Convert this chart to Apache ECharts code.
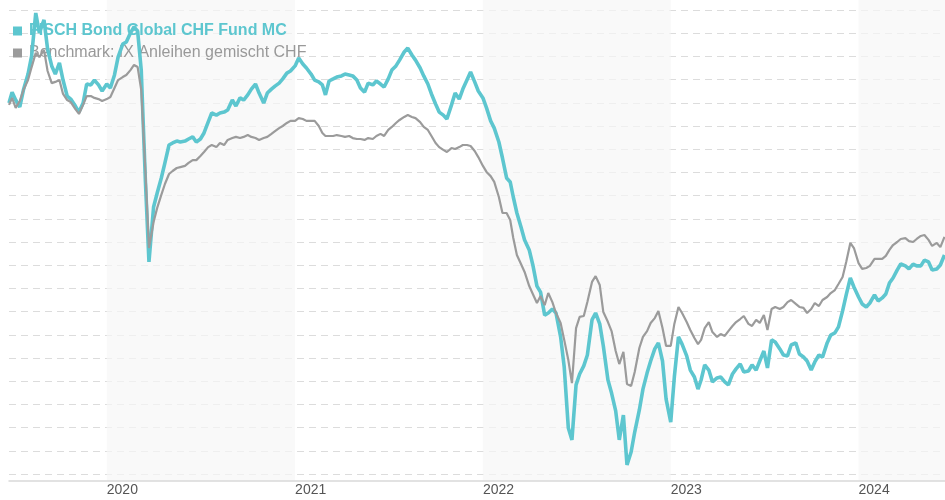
<!DOCTYPE html>
<html>
<head>
<meta charset="utf-8">
<script src="https://cdn.jsdelivr.net/npm/echarts@6/dist/echarts.min.js"></script>
<style>html,body{margin:0;padding:0;background:#fff}#c{width:945px;height:500px}</style>
</head>
<body>
<div id="c"></div>
<script>
const fundName = 'FISCH Bond Global CHF Fund MC';
const benchName = 'Benchmark: IX Anleihen gemischt CHF';
const yearTicks = ['2020', '2021', '2022', '2023', '2024'];
const shadedBands = [['2020-01-01', '2021-01-01'], ['2022-01-01', '2023-01-01'], ['2024-01-01', '2024-06-17']];

const dates = [
'2019-06-25',
'2019-07-01','2019-07-08','2019-07-16','2019-07-23',
'2019-08-01','2019-08-08','2019-08-16','2019-08-23',
'2019-09-01','2019-09-08','2019-09-16','2019-09-23',
'2019-10-01','2019-10-08','2019-10-16','2019-10-23',
'2019-11-01','2019-11-08','2019-11-16','2019-11-23',
'2019-12-01','2019-12-08','2019-12-16','2019-12-23',
'2020-01-01','2020-01-08','2020-01-16','2020-01-23',
'2020-02-01','2020-02-08','2020-02-16','2020-02-23',
'2020-03-01','2020-03-08','2020-03-16','2020-03-23',
'2020-04-01','2020-04-08','2020-04-16','2020-04-23',
'2020-05-01','2020-05-08','2020-05-16','2020-05-23',
'2020-06-01','2020-06-08','2020-06-16','2020-06-23',
'2020-07-01','2020-07-08','2020-07-16','2020-07-23',
'2020-08-01','2020-08-08','2020-08-16','2020-08-23',
'2020-09-01','2020-09-08','2020-09-16','2020-09-23',
'2020-10-01','2020-10-08','2020-10-16','2020-10-23',
'2020-11-01','2020-11-08','2020-11-16','2020-11-23',
'2020-12-01','2020-12-08','2020-12-16','2020-12-23',
'2021-01-01','2021-01-08','2021-01-16','2021-01-23',
'2021-02-01','2021-02-08','2021-02-16','2021-02-23',
'2021-03-01','2021-03-08','2021-03-16','2021-03-23',
'2021-04-01','2021-04-08','2021-04-16','2021-04-23',
'2021-05-01','2021-05-08','2021-05-16','2021-05-23',
'2021-06-01','2021-06-08','2021-06-16','2021-06-23',
'2021-07-01','2021-07-08','2021-07-16','2021-07-23',
'2021-08-01','2021-08-08','2021-08-16','2021-08-23',
'2021-09-01','2021-09-08','2021-09-16','2021-09-23',
'2021-10-01','2021-10-08','2021-10-16','2021-10-23',
'2021-11-01','2021-11-08','2021-11-16','2021-11-23',
'2021-12-01','2021-12-08','2021-12-16','2021-12-23',
'2022-01-01','2022-01-08','2022-01-16','2022-01-23',
'2022-02-01','2022-02-08','2022-02-16','2022-02-23',
'2022-03-01','2022-03-08','2022-03-16','2022-03-23',
'2022-04-01','2022-04-08','2022-04-16','2022-04-23',
'2022-05-01','2022-05-08','2022-05-16','2022-05-23',
'2022-06-01','2022-06-08','2022-06-16','2022-06-23',
'2022-07-01','2022-07-08','2022-07-16','2022-07-23',
'2022-08-01','2022-08-08','2022-08-16','2022-08-23',
'2022-09-01','2022-09-08','2022-09-16','2022-09-23',
'2022-10-01','2022-10-08','2022-10-16','2022-10-23',
'2022-11-01','2022-11-08','2022-11-16','2022-11-23',
'2022-12-01','2022-12-08','2022-12-16','2022-12-23',
'2023-01-01','2023-01-08','2023-01-16','2023-01-23',
'2023-02-01','2023-02-08','2023-02-16','2023-02-23',
'2023-03-01','2023-03-08','2023-03-16','2023-03-23',
'2023-04-01','2023-04-08','2023-04-16','2023-04-23',
'2023-05-01','2023-05-08','2023-05-16','2023-05-23',
'2023-06-01','2023-06-08','2023-06-16','2023-06-23',
'2023-07-01','2023-07-08','2023-07-16','2023-07-23',
'2023-08-01','2023-08-08','2023-08-16','2023-08-23',
'2023-09-01','2023-09-08','2023-09-16','2023-09-23',
'2023-10-01','2023-10-08','2023-10-16','2023-10-23',
'2023-11-01','2023-11-08','2023-11-16','2023-11-23',
'2023-12-01','2023-12-08','2023-12-16','2023-12-23',
'2024-01-01','2024-01-08','2024-01-16','2024-01-23',
'2024-02-01','2024-02-08','2024-02-16','2024-02-23',
'2024-03-01','2024-03-08','2024-03-16','2024-03-23',
'2024-04-01','2024-04-08','2024-04-16','2024-04-23',
'2024-05-01','2024-05-08','2024-05-16','2024-05-23',
'2024-06-01','2024-06-08','2024-06-16'
];

const fund = [
97.99,
98.46, 98.12, 97.82, 98.55,
99.24, 100.02, 101.87, 101.01,
101.57, 100.32, 99.59, 99.24,
99.72, 98.98, 98.29, 98.16,
97.86, 97.60, 97.99, 98.81,
98.77, 98.98, 98.77, 98.51,
98.81, 98.64, 99.20, 99.97,
100.53, 100.62, 101.01, 101.27,
101.09, 99.41, 94.67, 91.14,
93.51, 94.11, 94.76, 95.41,
96.18, 96.27, 96.35, 96.31,
96.35, 96.44, 96.53, 96.31,
96.44, 96.70, 97.17, 97.56,
97.47, 97.56, 97.60, 97.69,
98.12, 97.86, 98.21, 98.12,
98.34, 98.59, 98.81, 98.42,
97.99, 98.42, 98.59, 98.72,
98.85, 99.03, 99.28, 99.37,
99.59, 99.93, 99.67, 99.50,
99.24, 98.98, 98.90, 98.77,
98.34, 98.94, 99.03, 99.11,
99.16, 99.24, 99.20, 99.16,
98.98, 98.64, 98.46, 98.85,
98.77, 98.94, 98.81, 98.68,
99.03, 99.41, 99.59, 99.84,
100.19, 100.36, 100.06, 99.84,
99.50, 99.16, 98.81, 98.38,
97.95, 97.60, 97.47, 97.30,
97.91, 98.42, 98.16, 98.59,
98.98, 99.33, 98.90, 98.51,
98.21, 97.78, 97.22, 96.91,
96.31, 95.62, 94.76, 94.59,
93.94, 93.25, 92.65, 92.09,
91.66, 91.01, 90.10, 89.84,
88.85, 88.94, 89.11, 88.94,
87.91, 86.61, 83.98, 83.47,
85.84, 86.31, 86.66, 87.13,
88.64, 88.94, 88.47, 87.52,
86.05, 85.49, 84.72, 83.47,
84.54, 82.39, 82.95, 83.81,
84.76, 85.66, 86.35, 86.87,
87.39, 87.65, 86.87, 85.23,
84.24, 86.18, 87.91, 87.60,
87.09, 86.48, 86.18, 85.66,
86.05, 86.70, 86.48, 85.97,
86.14, 86.18, 85.97, 85.84,
86.31, 86.53, 86.74, 86.40,
86.44, 86.70, 86.48, 86.87,
87.30, 86.57, 87.78, 87.69,
87.39, 87.13, 87.09, 87.56,
87.65, 87.17, 87.04, 86.87,
86.48, 86.83, 87.13, 87.04,
87.65, 87.99, 88.08, 88.34,
89.03, 89.72, 90.45, 90.06,
89.63, 89.33, 89.20, 89.37,
89.72, 89.46, 89.59, 89.76,
90.23, 90.45, 90.79, 91.05,
90.97, 90.84, 91.05, 90.97,
90.97, 91.22, 91.14, 90.79,
90.84, 91.01, 91.44
];

const benchmark = [
97.91,
98.21, 97.78, 98.08, 98.55,
98.98, 99.54, 100.15, 99.97,
100.28, 99.37, 98.85, 98.90,
98.98, 98.38, 98.12, 98.03,
97.73, 97.52, 97.91, 98.29,
98.29, 98.21, 98.16, 98.08,
98.16, 98.25, 98.64, 98.98,
99.11, 99.20, 99.41, 99.63,
99.54, 98.55, 95.10, 91.74,
92.86, 93.47, 94.03, 94.50,
94.93, 95.06, 95.19, 95.23,
95.28, 95.41, 95.53, 95.53,
95.71, 95.88, 96.09, 96.18,
96.09, 96.27, 96.18, 96.40,
96.48, 96.53, 96.48, 96.53,
96.61, 96.53, 96.48, 96.40,
96.48, 96.53, 96.66, 96.78,
96.91, 97.00, 97.13, 97.22,
97.22, 97.34, 97.30, 97.22,
97.22, 97.22, 97.00, 96.70,
96.57, 96.57, 96.57, 96.61,
96.57, 96.53, 96.57, 96.48,
96.44, 96.44, 96.40, 96.48,
96.44, 96.57, 96.66, 96.57,
96.83, 96.96, 97.13, 97.26,
97.39, 97.47, 97.39, 97.34,
97.17, 96.96, 96.83, 96.57,
96.27, 96.09, 95.97, 95.88,
96.05, 96.01, 96.09, 96.18,
96.18, 96.14, 95.92, 95.66,
95.28, 95.02, 94.84, 94.59,
93.94, 93.25, 93.25, 92.95,
92.17, 91.44, 91.05, 90.71,
90.10, 89.76, 89.37, 89.67,
89.28, 89.80, 89.41, 88.94,
88.51, 87.78, 86.91, 85.92,
88.29, 88.77, 88.81, 89.41,
90.28, 90.53, 90.15, 88.98,
88.55, 88.16, 87.30, 86.74,
87.26, 85.88, 85.79, 86.40,
87.43, 87.91, 88.16, 88.51,
88.72, 89.03, 88.29, 87.52,
87.52, 88.47, 89.20, 88.94,
88.55, 88.21, 87.86, 87.60,
87.78, 88.29, 88.55, 88.12,
87.91, 88.03, 87.95, 88.16,
88.38, 88.55, 88.68, 88.81,
88.47, 88.38, 88.64, 88.51,
88.85, 88.21, 89.11, 89.20,
89.11, 89.20, 89.41, 89.50,
89.33, 89.20, 89.16, 88.94,
89.11, 89.37, 89.24, 89.50,
89.63, 89.80, 89.93, 90.19,
90.49, 91.14, 91.96, 91.74,
91.09, 90.84, 90.88, 90.97,
91.27, 91.27, 91.27, 91.40,
91.66, 91.87, 92.00, 92.13,
92.17, 92.04, 92.00, 92.13,
92.26, 92.30, 92.09, 91.83,
91.96, 91.78, 92.22
];

const fundColor = '#5dc6cf';
const benchColor = '#9b9b9b';
const X_MIN = '2019-06-25';
const X_MAX = '2024-06-17';
const Y_MIN = 82, Y_MAX = 102;

const pair = (vals) => dates.map((d, i) => [d, vals[i]]);

const chart = echarts.init(document.getElementById('c'), null, { renderer: 'canvas' });
chart.setOption({
  animation: false,
  useUTC: true,
  backgroundColor: '#ffffff',
  textStyle: { fontFamily: 'Liberation Sans, Arial, sans-serif' },
  grid: [
    { left: 9, right: 0, top: 0, bottom: 19 },
    { left: 9, right: 0, top: 10, bottom: 26 }
  ],
  legend: {
    orient: 'vertical',
    left: 13,
    top: 23,
    padding: 0,
    z: 1.5,
    itemWidth: 9,
    itemHeight: 9,
    itemGap: 6,
    icon: 'rect',
    selectedMode: false,
    textStyle: { fontSize: 16, padding: [0, 0, 0, 2] },
    data: [
      { name: fundName, textStyle: { fontWeight: 'bold', color: fundColor, fontSize: 16 } },
      { name: benchName, textStyle: { color: '#999999', fontSize: 16 } }
    ]
  },
  xAxis: [
    {
      type: 'time', gridIndex: 0, min: X_MIN, max: X_MAX, z: 3,
      minInterval: 365 * 86400000,
      axisLine: { show: true, lineStyle: { color: '#d9d9d9', width: 1.5 } },
      axisTick: { show: false },
      splitLine: { show: false },
      axisLabel: {
        align: 'left', margin: 2, color: '#555', fontSize: 14,
        showMinLabel: false, showMaxLabel: false,
        formatter: function (v) {
          const d = new Date(v);
          const y = String(d.getUTCFullYear());
          return (d.getUTCMonth() === 0 && d.getUTCDate() === 1 && yearTicks.indexOf(y) >= 0) ? y : '';
        }
      }
    },
    { type: 'time', gridIndex: 1, min: X_MIN, max: X_MAX, show: false }
  ],
  yAxis: [
    { type: 'value', gridIndex: 0, min: Y_MIN, max: Y_MAX, show: false, splitLine: { show: false } },
    {
      type: 'value', gridIndex: 1, min: Y_MIN, max: Y_MAX, interval: 1,
      axisLine: { show: false }, axisTick: { show: false }, axisLabel: { show: false },
      splitLine: { show: true, lineStyle: { color: '#dcdcdc', width: 1.2, type: [7, 5] } }
    }
  ],
  series: [
    {
      name: 'bands', type: 'line', xAxisIndex: 0, yAxisIndex: 0, z: 1,
      data: pair(fund), showSymbol: false, symbol: 'none', silent: true,
      lineStyle: { opacity: 0 }, tooltip: { show: false },
      markArea: {
        silent: true,
        itemStyle: { color: 'rgba(246,246,246,0.72)' },
        data: shadedBands.map(b => [{ xAxis: b[0] }, { xAxis: b[1] }])
      }
    },
    {
      name: fundName, type: 'line', xAxisIndex: 1, yAxisIndex: 1, z: 2,
      data: pair(fund), showSymbol: false, symbol: 'none', clip: false,
      color: fundColor, itemStyle: { color: fundColor },
      lineStyle: { color: fundColor, width: 3.6 }
    },
    {
      name: benchName, type: 'line', xAxisIndex: 1, yAxisIndex: 1, z: 2,
      data: pair(benchmark), showSymbol: false, symbol: 'none', clip: false,
      color: benchColor, itemStyle: { color: benchColor },
      lineStyle: { color: benchColor, width: 2.2 }
    }
  ]
});
</script>
</body>
</html>
